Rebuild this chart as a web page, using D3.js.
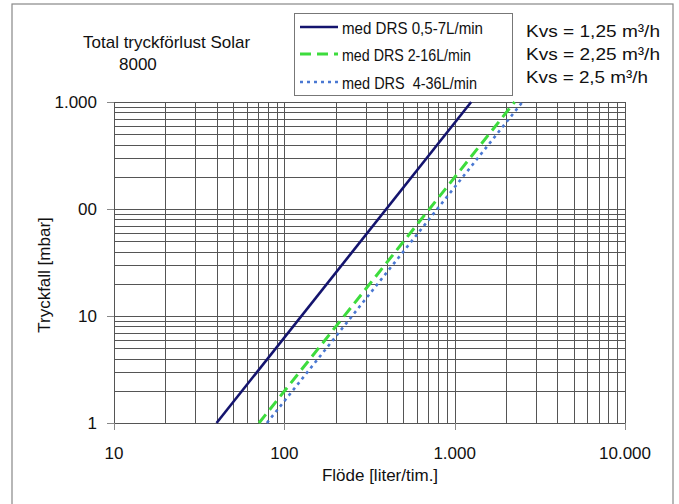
<!DOCTYPE html>
<html>
<head>
<meta charset="utf-8">
<script src="https://cdn.jsdelivr.net/npm/d3@7"></script>
<style>
  body { margin: 0; background: #fff; }
  svg { display: block; font-family: "Liberation Sans", Arial, sans-serif; }
  text { white-space: pre; fill: #111; }
</style>
</head>
<body>
<svg id="chart" width="679" height="504"></svg>
<script>
// data
const pressure = [1, 1000];               // mbar, bottom and top of plot
const flowDRS1 = [40, 1250];              // liter/tim. at 1 and 1000 mbar
const flowDRS2 = [71, 2250];
const flowDRS3 = [79, 2500];
const seriesNames = ["med DRS 0,5-7L/min", "med DRS 2-16L/min", "med DRS  4-36L/min"];
const kvsLabels = ["Kvs = 1,25 m³/h", "Kvs = 2,25 m³/h", "Kvs = 2,5 m³/h"];
const xTickValues = [10, 100, 1000, 10000];
const xTickLabels = ["10", "100", "1.000", "10.000"];
const yTickValues = [1, 10, 100, 1000];
const yTickLabels = ["1", "10", "00", "1.000"];

const svg = d3.select("#chart");

// outer frame
svg.append("rect")
  .attr("x", 12).attr("y", 4)
  .attr("width", 661).attr("height", 520)
  .attr("fill", "none")
  .attr("stroke", "#888")
  .attr("stroke-width", 1.2);

const x = d3.scaleLog().domain([10, 10000]).range([114, 625]);
const y = d3.scaleLog().domain([1, 1000]).range([423, 102]);

// grid
const grid = svg.append("g").attr("stroke", "#555").attr("stroke-width", 1);
grid.selectAll(".vgrid")
  .data(x.ticks())
  .enter().append("line")
  .attr("x1", d => Math.round(x(d)) + 0.5).attr("x2", d => Math.round(x(d)) + 0.5)
  .attr("y1", y(1000)).attr("y2", y(1));
grid.selectAll(".hgrid")
  .data(y.ticks())
  .enter().append("line")
  .attr("y1", d => Math.round(y(d)) + 0.5).attr("y2", d => Math.round(y(d)) + 0.5)
  .attr("x1", x(10)).attr("x2", x(10000));

// tick marks
svg.append("g").selectAll("line")
  .data(xTickValues)
  .enter().append("line")
  .attr("x1", d => Math.round(x(d)) + 0.5).attr("x2", d => Math.round(x(d)) + 0.5)
  .attr("y1", y(1)).attr("y2", y(1) + 7)
  .attr("stroke", "#888");
svg.append("g").selectAll("line")
  .data(yTickValues)
  .enter().append("line")
  .attr("y1", d => Math.round(y(d)) + 0.5).attr("y2", d => Math.round(y(d)) + 0.5)
  .attr("x1", x(10) - 7).attr("x2", x(10))
  .attr("stroke", "#888");

// tick labels
svg.append("g").selectAll("text")
  .data(xTickValues)
  .enter().append("text")
  .attr("x", d => x(d))
  .attr("y", 459)
  .attr("text-anchor", "middle")
  .style("font-size", "17px")
  .text((d, i) => xTickLabels[i]);
svg.append("g").selectAll("text")
  .data(yTickValues)
  .enter().append("text")
  .attr("x", 97)
  .attr("y", d => y(d) + 6)
  .attr("text-anchor", "end")
  .style("font-size", "17px")
  .text((d, i) => yTickLabels[i]);

// axis titles
svg.append("text")
  .attr("x", 380).attr("y", 481)
  .attr("text-anchor", "middle")
  .style("font-size", "17px")
  .text("Flöde [liter/tim.]");
svg.append("text")
  .attr("transform", "translate(50,275) rotate(-90)")
  .attr("text-anchor", "middle")
  .style("font-size", "17px")
  .text("Tryckfall [mbar]");

// chart title
svg.append("text").attr("x", 83).attr("y", 48).style("font-size", "17px")
  .text("Total tryckförlust Solar");
svg.append("text").attr("x", 119).attr("y", 70).style("font-size", "17px")
  .text("8000");

// series
const series = [
  { flow: flowDRS1, color: "#14146e", dash: null, width: 2.6 },
  { flow: flowDRS2, color: "#3ddc3d", dash: "11,6", width: 3 },
  { flow: flowDRS3, color: "#4a78d2", dash: "3,4", width: 2.6 }
];
const line = d3.line().x(d => x(d[0])).y(d => y(d[1]));
series.forEach(s => {
  svg.append("path")
    .datum(s.flow.map((f, i) => [f, pressure[i]]))
    .attr("d", line)
    .attr("fill", "none")
    .attr("stroke", s.color)
    .attr("stroke-width", s.width)
    .attr("stroke-dasharray", s.dash);
});

// legend
const legend = svg.append("g");
legend.append("rect")
  .attr("x", 294.5).attr("y", 13.5)
  .attr("width", 218).attr("height", 82)
  .attr("fill", "#fff")
  .attr("stroke", "#777");
const rowY = [27, 54, 82];
series.forEach((s, i) => {
  legend.append("line")
    .attr("x1", 300).attr("x2", 338)
    .attr("y1", rowY[i]).attr("y2", rowY[i])
    .attr("stroke", s.color)
    .attr("stroke-width", s.width)
    .attr("stroke-dasharray", s.dash);
  legend.append("text")
    .attr("x", 342).attr("y", rowY[i] + 7)
    .style("font-size", "17px")
    .attr("textLength", i === 0 ? 141 : (i === 1 ? 129 : 135))
    .attr("lengthAdjust", "spacingAndGlyphs")
    .text(seriesNames[i]);
});

// Kvs notes
const kvsY = [37, 60, 83];
kvsLabels.forEach((t, i) => {
  svg.append("text")
    .attr("x", 526).attr("y", kvsY[i])
    .style("font-size", "17px")
    .attr("textLength", i === 2 ? 122 : 134)
    .attr("lengthAdjust", "spacingAndGlyphs")
    .text(t);
});
</script>
</body>
</html>
